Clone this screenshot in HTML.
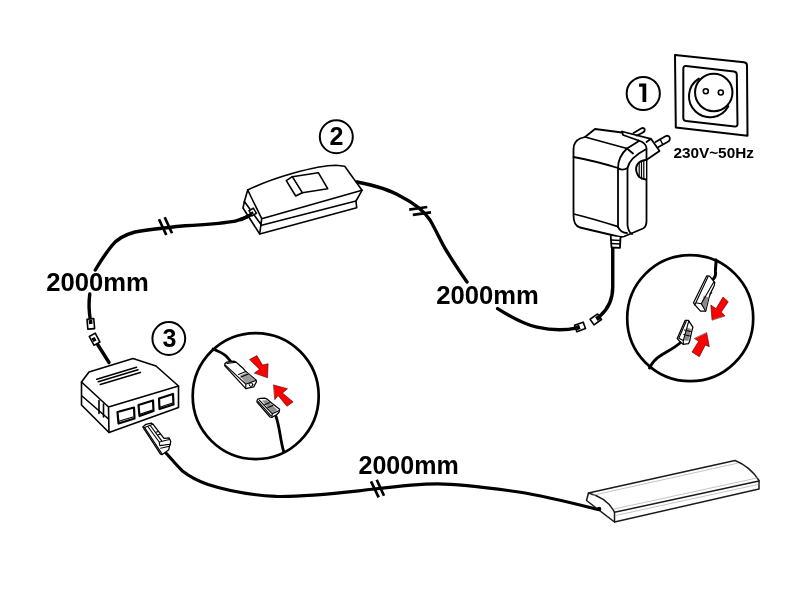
<!DOCTYPE html>
<html><head><meta charset="utf-8"><style>
html,body{margin:0;padding:0;background:#fff;width:800px;height:600px;overflow:hidden}
svg{display:block;will-change:transform}
text{font-family:"Liberation Sans",sans-serif}
</style></head><body>
<svg width="800" height="600" viewBox="0 0 800 600">
<rect width="800" height="600" fill="#fff"/>
<g fill="none" stroke="#000" stroke-linecap="round" stroke-linejoin="round">

<!-- ===== cables ===== -->
<g stroke-width="3.4">
<!-- adapter cable down to connector -->
<path d="M612.75,248 L612.75,287 C612.75,300 608,309 600,316"/>
<!-- cable from connector A2 to text -->
<path d="M577,327.8 C566,330.5 552,330.5 537,327.2 C524,324.2 514,319 497.6,308.6"/>
<!-- switch right to text -->
<path d="M357,182 C372,185 390,190 400,196 C414,203 424,211 430,220 C437,232 441,242 446,250 C452,260 460,272 467,282"/>
<!-- switch left to 2000mm left text -->
<path d="M252,214.5 C245,217.5 240,220.5 232,221.6 C220,223.5 205,224.6 185,225.7 C160,228.2 146,230 135,232 C124,235 117,239 112,245.5 C106,253 100,262 95.3,270"/>
<!-- below left text down to connector L1 -->
<path d="M89.8,294 C88.6,302 89,312 90.5,321"/>
<!-- L2 to box -->
<path d="M94.5,339.5 L109,362.5"/>
<!-- plug to LED bar -->
<path stroke-width="3.1" d="M164.6,451.6 C170,457 176,465 182.5,471 C190,477 198,481 208,484.5 C225,490 250,495 276,496.4 C300,497 330,494 358.8,490.9 C380,488.6 410,484 437.5,483.9 C460,484 480,486.5 518.7,492 C545,496 567,501.7 598,509.5"/>
</g>

<!-- break marks -->
<g stroke-width="2.7" stroke-linecap="butt">
<path d="M159,219.3 L166.3,235 M164.7,217.3 L172,233.3"/>
<path d="M409.2,209.6 L427.3,207 M412.8,214.8 L431,212.4"/>
<path d="M371,481.3 L378.7,497.3 M376.7,479.7 L384,495.7"/>
</g>

<!-- connectors near adapter -->
<g stroke-width="1.6" fill="#fff">
<rect x="-4.6" y="-3.4" width="9.2" height="6.8" transform="translate(595.8,319.4) rotate(-35)"/>
<rect x="-4.6" y="-3.4" width="9.2" height="6.8" transform="translate(580,326.9) rotate(-20)"/>
<rect x="-3.4" y="-5" width="6.8" height="10" transform="translate(90.8,323.9) rotate(-5)"/>
<rect x="-3.4" y="-5" width="6.8" height="10" transform="translate(94.6,339.2) rotate(-28)"/>
</g>
<g fill="#000" stroke="none">
<rect x="-2" y="-2.2" width="4" height="4.4" transform="translate(598,318) rotate(-35)"/>
<rect x="-2" y="-2.2" width="4" height="4.4" transform="translate(578,327.5) rotate(-20)"/>
<rect x="-1.8" y="-2" width="3.6" height="4" transform="translate(90.6,322) rotate(-5)"/>
<rect x="-1.8" y="-2" width="3.6" height="4" transform="translate(94,339.5) rotate(-28)"/>
</g>

<!-- ===== numbered circles ===== -->
<g stroke-width="2">
<circle cx="643.25" cy="93.5" r="16.6"/>
<circle cx="336.3" cy="136.75" r="16.5"/>
<circle cx="168.8" cy="338.5" r="16.4"/>
</g>
</g>
<g font-family="Liberation Sans" font-weight="bold" fill="#000" text-anchor="middle">
<text x="336.5" y="145" font-size="25">2</text>
<text x="169.4" y="346.6" font-size="25">3</text>
</g>

<path d="M639.1,83.6 L646.25,83.6 L646.25,101.9 L642.5,101.9 L642.5,86.7 L639.1,86.7 Z" fill="#000"/>
<!-- ===== texts ===== -->
<g font-family="Liberation Sans" font-weight="bold" fill="#000">
<text x="46.3" y="290.8" font-size="25" textLength="102.6" lengthAdjust="spacingAndGlyphs">2000mm</text>
<text x="436.3" y="304" font-size="25" textLength="102.6" lengthAdjust="spacingAndGlyphs">2000mm</text>
<text x="358.5" y="473.6" font-size="25" textLength="100.3" lengthAdjust="spacingAndGlyphs">2000mm</text>
<text x="673.4" y="157.6" font-size="14" textLength="80.5" lengthAdjust="spacingAndGlyphs">230V~50Hz</text>
</g>

<g fill="none" stroke="#000" stroke-linecap="round" stroke-linejoin="round" stroke-width="2">
<!-- ===== socket ===== -->
<path d="M675,55 L744,62.2 Q747,62.5 747,65.5 L747.5,135.8 L675.8,127.5 Z"/>
<path d="M686,66 L734,71.4 Q736.8,71.7 736.8,74.5 L737.5,124 Q737.5,126.8 734.7,126.5 L686,121 Q683.3,120.7 683.3,118 L683.3,68.8 Q683.3,65.8 686,66 Z"/>
<circle cx="713.75" cy="92.5" r="18.7"/>
<path d="M698.8,78.6 A20.9,20.9 0 1,0 728.3,106.2"/>
<circle cx="705.8" cy="91.3" r="2.5" stroke-width="1.6"/>
<circle cx="720.8" cy="92.5" r="2.5" stroke-width="1.6"/>

<!-- ===== adapter ===== -->
<g stroke-width="1.8">
<!-- prongs -->
<path d="M633.5,133 L641.5,128.3 C643.5,127.3 645.5,129 644.5,131 C644,132 643,132.5 642,133 L637,135.5" fill="#fff"/>
<path d="M655.5,142 L665.5,136.2 C667.8,135 670.5,136.5 669.8,139.5 C669.5,140.8 668.5,141.5 667.5,142 L658.5,147" fill="#fff"/>
<path d="M660.2,139.5 L662.8,144.5" stroke-width="1.5"/>
<!-- plug plate -->
<path d="M622,131.5 L651,138.8 L659.5,151 L647,159.5 M622,131.5 L623,135 L638.5,140.5 M651,138.8 L646.5,142"/>
<!-- body outer -->
<path d="M573.5,215 L573.5,149 C573.5,144 576,140.5 580,138.5 L585,137 L595,129 L622,132.5 M638.5,140.5 C642,141.5 646,144 646.5,148 L646.5,221 C646.5,225 645,227.5 643,228.5 L624,236.5 C621,237.3 619,236.7 616,236 L580,227.5 C576,226.5 573.5,222 573.5,215"/>
<!-- top face front edge -->
<path d="M585,137 L627,148.5 L639,141"/>
<!-- front top band line -->
<path d="M573.5,157 C590,160 605,164 618,168"/>
<!-- rounded corner + front right edge -->
<path d="M627,148.5 C621,154 618,161 618,168 L618,227"/>
<path d="M627,148.5 L633,153.5"/>
<!-- inner right panel -->
<path d="M645.5,149.5 C636,154.5 629,160 627.5,168 L627.5,225 C628,230 630,233 632,234"/>
<path d="M618,168 C620,170 624,170 627.5,168"/>
<!-- bottom band -->
<path d="M573.8,214 C590,218 605,222.5 618,226.7"/>
<path d="M618,227 C620,231 624,233 627,233"/>
<!-- dial -->
<path d="M646,160 C637,161 635,167 636.5,172 C637.5,176 641,179 646,179.5" fill="#fff"/>
<path d="M639.2,162.5 L639.2,177.5 M641.5,161 L641.5,179 M643.8,160.5 L643.8,179.5" stroke-width="1.2"/>
<!-- strain relief -->
<path d="M610.8,236.5 L611.5,247.5 L620,247.8 L620.5,237" fill="#fff"/>
<path d="M611,240 L620.3,240.5 M611.2,243.5 L620.2,244" stroke-width="1.5"/>
</g>

<!-- ===== switch ===== -->
<g stroke-width="1.6" fill="#fff">
<path d="M247.7,190 C262,183 278,177.5 292,173.5 C310,168.5 325,165.3 336,165.3 L344.7,166.3 L362,190.3 L356,201 L356.7,207.7 L259.7,234 L243,208 L244.4,201.5 Z"/>
<path d="M247.7,190 L261.7,218.7 L362,190.3 M261.7,218.7 L259.7,234 M261.6,225.3 L356,201 M244.4,201.5 L261.6,225.3" fill="none"/>
<path d="M286.3,180.7 L292.3,176.7 L318.3,172.7 L327.7,188.7 L302.3,192.7 L295.7,196 Z"/>
<path d="M292.3,176.7 L302.3,192.7" fill="none"/>
<path d="M253,213.5 C249,216 245,218 241,219.5" fill="none" stroke-width="3.6"/>
<rect x="-2.5" y="-3" width="5" height="6" transform="translate(252.7,212) rotate(-30)" stroke-width="1.5"/>
<rect x="-1.2" y="-1.2" width="2.4" height="2.4" transform="translate(252.2,213) rotate(-30)" fill="#000" stroke="none"/>
</g>

<!-- ===== distribution box ===== -->
<g stroke-width="1.6" fill="#fff">
<path d="M81.5,382 L89,372 L133,358.5 L156,366 L178.5,386 L178.5,407.5 L109,432.5 L81.5,405 Z"/>
<path d="M81.5,382 L108.5,407 L178.5,386 M108.5,407 L109,432.5 M82,396 L108.5,419" fill="none"/>
<path d="M99,400.5 L99,413.5 M103.5,404 L103.5,417" fill="none" stroke-width="1.6"/>
<path d="M96.8,379.3 L136.5,367.3 M98.3,381.8 L138,369.8 M100.3,384.4 L140.3,372.4" fill="none" stroke-width="1.6"/>
<g stroke-width="2.2">
<path d="M117.5,412 L134,407.5 L134.5,418.5 L118.5,423.5 Z"/>
<path d="M138.5,405 L153,400.5 L153.5,411 L139.5,416 Z"/>
<path d="M159,398.5 L173,394 L173.5,404.5 L159.5,409 Z"/>
</g>
<path d="M119.5,421 L133,417 M140.5,414 L152.5,410 M160.5,407 L172.5,403" fill="none" stroke-width="1.2"/>
</g>

<!-- ===== plug ===== -->
<g stroke-width="1.3" fill="#fff">
<path d="M142.75,426.9 L145.9,424.3 L151.3,423.1 L152.9,424.2 L164,438.3 L169,437.8 L170.7,441.3 L170.3,444.6 L169.5,446 L168.8,449.7 L162,454.7 L160.5,454.1 Z"/>
<path d="M144.5,427.4 L152.9,424.2 M144.5,427.4 L161.8,453.6 M148.2,427 L159.2,442 M150.6,426 L161.5,440.6 M159.2,442 L169.3,439.5 M159.2,442 L159.8,445.6 L170.3,444.2 M160.6,448.2 L169.5,446.2 M155.5,432.5 L158,431.5 M157.5,435 L160,434" fill="none" stroke-width="1.1"/>
</g>
<!-- ===== LED bar ===== -->
<g stroke-width="1.5" fill="#fff" stroke="#1a1a1a">
<path d="M588.5,493 L735,460.5 C745,464.5 753,471 759,480.5 L759,489 L614.5,522 L586.5,500.5 Z"/>
<path d="M759,481 L614.5,512.3 C610,503 602,496.5 588.5,493 M614.5,512.3 L614.5,522" fill="none"/>
<path d="M592,495.5 L737,463.3 M614,509 L757,478 M615.5,515.5 L758,484.5" fill="none" stroke="#b5b5b5" stroke-width="0.8"/>
</g>
<circle cx="599" cy="509" r="2.3" fill="#000" stroke="none"/>

<!-- ===== zoom circle right ===== -->
<circle cx="690.2" cy="318.15" r="63" stroke-width="2.7"/>
<path d="M716,260 C716.5,263 715,268 715.5,272 C716,275 714.5,278 712.5,280" stroke-width="3"/>
<path d="M680,343 C673,349 666,352 660,356 C655,359 652,363 649.5,368" stroke-width="2.9"/>
<g stroke-width="1.25" fill="#fff">
<path d="M706.8,275.8 L709.6,276.2 L714.8,282.5 L714.1,286 L711,292.3 L708.9,297.9 L705.7,311.2 L700.5,311.2 L694.9,304.9 L693.5,302.8 Z"/>
<path d="M703.8,295.5 L708.7,297.5 L705.6,310.5 L701.4,304.5 Z" fill="#8a8a8a" stroke="none"/>
<path d="M707.8,277.2 L695.8,302.8 L701.2,303.8 L713.6,282.2 M701.2,303.8 L705.6,311 M695.8,302.8 L694.9,304.9 M709.8,294 L711.8,292.8" fill="none" stroke-width="1.1"/>
<path d="M685.2,320.3 L688.4,320.3 L692.9,327.2 L692.1,329.9 L689.5,341.6 L688.4,343.7 L683.1,344.3 L678.3,340 L677.2,338.4 Z"/>
<path d="M686.8,327.5 L691,329 L688.4,341 L683.8,340.5 Z" fill="#8a8a8a" stroke="none"/>
<path d="M686.2,321.2 L678.8,338.2 L683.3,340.6 L688.8,320.8 M683.3,340.6 L683.3,344 M684.5,330 L690.5,331.5 M683.8,334.5 L689.8,336" fill="none" stroke-width="1.1"/>
</g>
<g fill="#f00" stroke="#400" stroke-width="0.6">
<path d="M712,319.8 L710.8,305 L716,308.7 L723,297 L728.3,301.7 L721.3,312 L724.8,315.7 Z"/>
<path d="M706.7,333 L709.3,346.7 L705.3,345 L699.3,356.7 L692,352 L698.7,341.3 L694.7,338.7 Z"/>
</g>

<!-- ===== zoom circle left ===== -->
<circle cx="255.7" cy="396.1" r="63" stroke-width="2.7"/>
<path d="M213,349 C218,351 223,353 226,356 C228.5,358.5 230,361 232,362.5" stroke-width="2.8"/>
<path d="M276,416.5 C278,422 279,428 280,434 C281,440 282,446 283.8,452" stroke-width="2.8"/>
<g stroke-width="1.25" fill="#fff">
<path d="M224.8,363.7 L226.5,362.2 L233.9,361.1 L236.2,362.2 L243,368.2 L245.8,371.6 L256,380.1 L256.5,381.8 L253.7,386.9 L245.8,388.6 L224.8,365.9 Z"/>
<path d="M240,375.5 L247,372.5 L255.5,380.5 L246,384 Z" fill="#9a9a9a" stroke="none"/>
<path d="M225.4,365.2 L245.8,384.2 L256,380.5 M245.8,384.2 L245.8,388.6 M227,363.4 L236.2,362.2 M238.5,374.5 L245.8,371.6 M241,377 L248.2,374" fill="none" stroke-width="1.1"/>
<circle cx="251" cy="384.6" r="1.8" fill="#fff" stroke-width="1"/>
<path d="M257,400.5 L257.9,399.2 L260.5,398.3 L264.4,398.1 L266.6,398.8 L272.2,403.5 L279.6,409.2 L279.1,412.2 L276.5,414.8 L271.8,417.4 L270,417 L257,402.2 Z"/>
<path d="M262,400.5 L267,400.2 L277.5,410 L272.5,413.5 Z" fill="#8f8f8f" stroke="none"/>
<path d="M257.9,401.4 L270.9,415.7 M259.5,400.3 L272.3,413.8 L279.3,410.5 M272.3,413.8 L271.8,417.4 M265,404.5 L269.5,402.8 M268,407.5 L272.8,405.5" fill="none" stroke-width="1.1"/>
</g>
<g fill="#f00" stroke="#400" stroke-width="0.6">
<path d="M249.75,359.4 L256.9,355.6 L262.5,365 L268.1,363.75 L267.5,377.75 L254.4,373.1 L259.4,369.4 Z"/>
<path d="M273.75,385 L287.5,388.75 L282.5,393.1 L293.1,401.9 L286.9,406.25 L278.1,395.6 L275,399.4 Z"/>
</g>
</g>
</svg>
</body></html>
